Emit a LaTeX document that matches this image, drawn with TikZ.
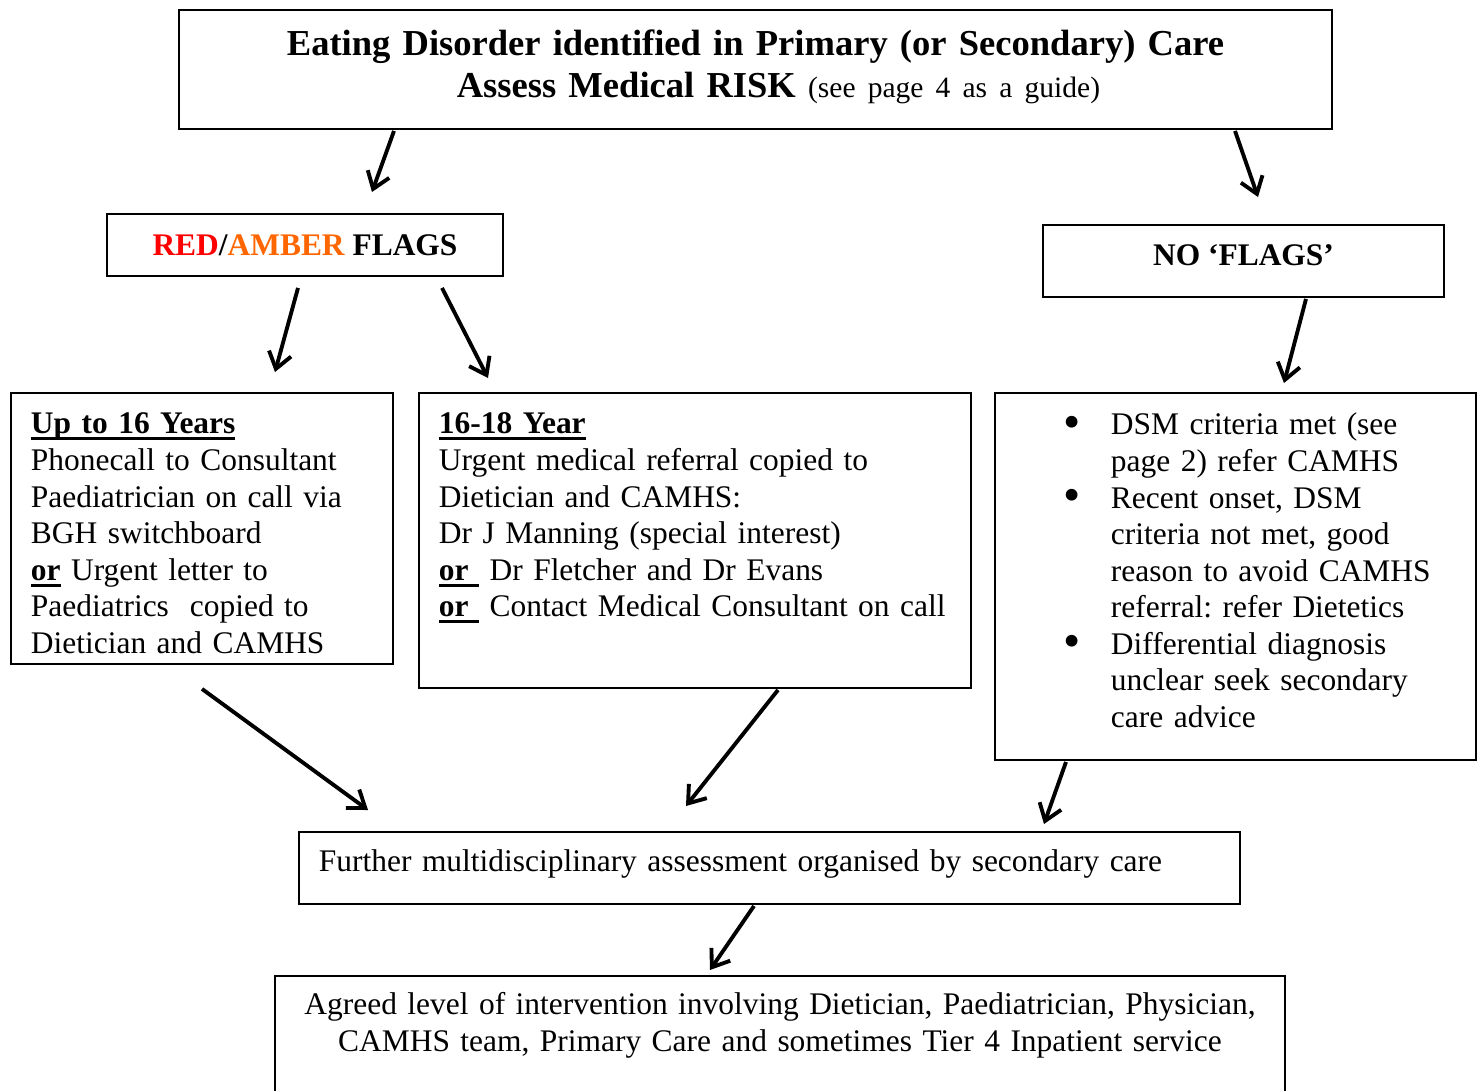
\documentclass[tikz,border=0pt]{standalone}
\usepackage{fontspec}
\setmainfont{Liberation Serif}
\usetikzlibrary{arrows.meta}
\definecolor{flagred}{RGB}{255,0,0}
\definecolor{flagamber}{RGB}{255,102,0}
\newcommand\pxu{0.02cm}
\newsavebox\ulbox
\newcommand\uln[1]{\leavevmode\sbox\ulbox{#1}\rlap{\rule[-3.7pt]{\wd\ulbox}{1.7pt}}\usebox\ulbox}
\newcommand\dsmitem{\leavevmode\llap{\makebox[0.94cm][l]{\raisebox{-2pt}{\fontsize{28}{28}\selectfont•}}}}
\frenchspacing
\begin{document}
\frenchspacing
\begin{tikzpicture}[x=0.02cm,y=-0.02cm,
  box/.style={draw,line width=1.1pt,anchor=north west,inner ysep=0pt,inner xsep=20*\pxu,
    font=\fontsize{17.9}{20.8}\selectfont},
  flagbox/.style={box,inner xsep=0pt,font=\fontsize{17.9}{20.8}\selectfont\bfseries},
  arr/.style={line width=2.2pt,-{Straight Barb[length=9pt,width=13pt]}}]
\useasboundingbox (0,0) rectangle (1482,1090);
\clip (0,0) rectangle (1482,1090);
% 見出し
\node[box,text width=1113*\pxu,align=center,text height=45.5*\pxu,text depth=73.5*\pxu,
  font=\fontsize{20.8}{24.2}\selectfont\bfseries] (top) at (178,9)
  {Eating Disorder identified in Primary (or Secondary) Care\\
   \hspace*{0.92cm}Assess Medical RISK {\mdseries\fontsize{16.8}{24.2}\selectfont(see page 4 as a guide)}};
% フラグ
\node[flagbox,minimum width=396*\pxu,text height=42*\pxu,text depth=20*\pxu] (redamber) at (106,213)
  {\textcolor{flagred}{RED}/\textcolor{flagamber}{AMBER} FLAGS};
\node[flagbox,minimum width=401*\pxu,text height=41*\pxu,text depth=31*\pxu] (noflags) at (1042,224)
  {NO ‘FLAGS’};
% 年齢別
\node[box,text width=342*\pxu,align=left,text height=41*\pxu,text depth=230*\pxu] (young) at (10,392)
  {\uln{\textbf{Up to 16 Years}}\\
   Phonecall to Consultant\\
   Paediatrician on call via\\
   BGH switchboard\\
   \uln{\textbf{or}} Urgent letter to\\
   Paediatrics\ \ copied to\\
   Dietician and CAMHS};
\node[box,text width=512*\pxu,align=left,text height=41*\pxu,text depth=254*\pxu] (older) at (418,392)
  {\uln{\textbf{16-18 Year}}\\
   Urgent medical referral copied to\\
   Dietician and CAMHS:\\
   Dr J Manning (special interest)\\
   \uln{\textbf{or}\ } Dr Fletcher and Dr Evans\\
   \uln{\textbf{or}\ } Contact Medical Consultant on call};
\node[box,text width=441*\pxu,align=left,text height=42*\pxu,text depth=325*\pxu] (dsm) at (994,392)
  {\leftskip=1.92cm
   \dsmitem DSM criteria met (see\\
   page 2) refer CAMHS\\
   \dsmitem Recent onset, DSM\\
   criteria not met, good\\
   reason to avoid CAMHS\\
   referral: refer Dietetics\\
   \dsmitem Differential diagnosis\\
   unclear seek secondary\\
   care advice\par};
% 二次医療
\node[box,text width=901*\pxu,align=left,text height=40*\pxu,text depth=32*\pxu] (further) at (298,831)
  {Further multidisciplinary assessment organised by secondary care};
\node[box,text width=970*\pxu,align=center,text height=39*\pxu,text depth=140*\pxu] (agreed) at (274,975)
  {Agreed level of intervention involving Dietician, Paediatrician, Physician,\\
   CAMHS team, Primary Care and sometimes Tier 4 Inpatient service};
% 矢印
\draw[arr] ([xshift=216*\pxu,yshift=-1*\pxu]top.south west) -- ([xshift=266*\pxu,yshift=21*\pxu]redamber.north west);
\draw[arr] ([xshift=1057*\pxu,yshift=-1*\pxu]top.south west) -- ([xshift=216*\pxu,yshift=27*\pxu]noflags.north west);
\draw[arr] ([xshift=192*\pxu,yshift=-11*\pxu]redamber.south west) -- ([xshift=265*\pxu,yshift=20*\pxu]young.north west);
\draw[arr] ([xshift=336*\pxu,yshift=-11*\pxu]redamber.south west) -- ([xshift=70*\pxu,yshift=14*\pxu]older.north west);
\draw[arr] ([xshift=264*\pxu,yshift=-1*\pxu]noflags.south west) -- ([xshift=290*\pxu,yshift=9*\pxu]dsm.north west);
\draw[arr] ([xshift=192*\pxu,yshift=-24*\pxu]young.south west) -- ([xshift=70*\pxu,yshift=21*\pxu]further.north west);
\draw[arr] ([xshift=360*\pxu,yshift=-1*\pxu]older.south west) -- ([xshift=388*\pxu,yshift=25*\pxu]further.north west);
\draw[arr] ([xshift=72*\pxu,yshift=-1*\pxu]dsm.south west) -- ([xshift=746*\pxu,yshift=7*\pxu]further.north west);
\draw[arr] ([xshift=456*\pxu,yshift=-1*\pxu]further.south west) -- ([xshift=436*\pxu,yshift=5*\pxu]agreed.north west);
\end{tikzpicture}
\end{document}
